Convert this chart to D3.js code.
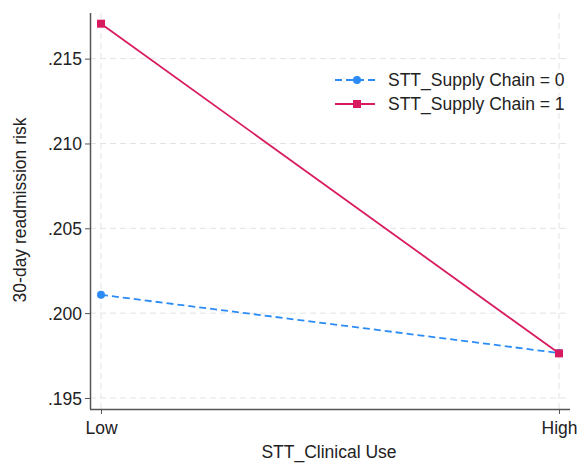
<!DOCTYPE html>
<html>
<head>
<meta charset="utf-8">
<script src="https://cdn.jsdelivr.net/npm/d3@7"></script>
<style>
  body { margin: 0; background: #fff; }
  text { font-family: "Liberation Sans", Arial, sans-serif; fill: #222; }
</style>
</head>
<body>
<div class="chart"></div>
<script>
const categories = ['Low', 'High']
const supplyChain0 = [0.20108, 0.19765]
const supplyChain1 = [0.21706, 0.19763]
const seriesNames = ['STT_Supply Chain = 0', 'STT_Supply Chain = 1']
const yTicks = [0.195, 0.200, 0.205, 0.210, 0.215]

const fullWidth = 577, fullHeight = 463
const margin = { top: 13, right: 7, bottom: 54, left: 90 }
const width = fullWidth - margin.left - margin.right
const height = fullHeight - margin.top - margin.bottom
const fontSize = '17.5px'

const svg = d3.select('.chart').append('svg')
    .attr('width', fullWidth)
    .attr('height', fullHeight)
const g = svg.append('g')
    .attr('transform', `translate(${margin.left}, ${margin.top})`)

const xScale = d3.scalePoint()
    .domain(categories)
    .range([11, 469])
const yScale = d3.scaleLinear()
    .domain([0.19435, 0.21769])
    .range([height, 0])

// grid
g.selectAll('.hgrid').data(yTicks).enter().append('line')
    .attr('x1', 0).attr('x2', width)
    .attr('y1', d => yScale(d)).attr('y2', d => yScale(d))
    .attr('stroke', '#e3e3e3').attr('stroke-dasharray', '6,4')
g.selectAll('.vgrid').data(categories).enter().append('line')
    .attr('x1', d => xScale(d)).attr('x2', d => xScale(d))
    .attr('y1', 0).attr('y2', height)
    .attr('stroke', '#e3e3e3').attr('stroke-dasharray', '6,4')

// axes
const yAxis = d3.axisLeft(yScale).tickValues(yTicks).tickSize(5).tickPadding(3)
    .tickFormat(d => d3.format('.3f')(d).replace(/^0/, ''))
const gY = g.append('g').call(yAxis)
const xAxis = d3.axisBottom(xScale).tickSize(5).tickPadding(8)
const gX = g.append('g').attr('transform', `translate(0, ${height})`).call(xAxis)
gX.select('.domain').attr('d', `M0,0.5H${width}`)
gY.select('.domain').attr('d', `M0.5,0V${height}`)
svg.selectAll('.domain').attr('stroke', '#555').attr('stroke-width', 1.5)
svg.selectAll('.tick line').attr('stroke', '#555')
svg.selectAll('.tick text').style('font-size', fontSize).style('fill', '#222')
    .style('font-family', '"Liberation Sans", Arial, sans-serif')
gY.selectAll('.tick text').attr('dy', '0.36em')

// axis titles
svg.append('text')
    .attr('x', 329).attr('y', 458)
    .attr('text-anchor', 'middle').style('font-size', fontSize)
    .text('STT_Clinical Use')
svg.append('text')
    .attr('transform', `translate(26, 210) rotate(-90)`)
    .attr('text-anchor', 'middle').style('font-size', fontSize)
    .text('30-day readmission risk')

// series
const series = [
    { name: seriesNames[0], values: supplyChain0, color: '#2b8cf7', dash: '7,4', marker: 'circle' },
    { name: seriesNames[1], values: supplyChain1, color: '#d81b60', dash: null, marker: 'square' }
]
const line = d3.line()
    .x((d, i) => xScale(categories[i]))
    .y(d => yScale(d))

function drawMarker(sel, type, color, x, y) {
    if (type === 'circle') {
        sel.append('circle').attr('cx', x).attr('cy', y).attr('r', 4).attr('fill', color)
    } else {
        sel.append('rect').attr('x', x - 4).attr('y', y - 4).attr('width', 8).attr('height', 8).attr('fill', color)
    }
}

series.forEach(s => {
    g.append('path')
        .datum(s.values)
        .attr('d', line)
        .attr('fill', 'none')
        .attr('stroke', s.color)
        .attr('stroke-width', 1.8)
        .attr('stroke-dasharray', s.dash)
    s.values.forEach((v, i) => drawMarker(g, s.marker, s.color, xScale(categories[i]), yScale(v)))
})

// legend
const legend = svg.append('g').attr('transform', 'translate(335, 80)')
series.forEach((s, i) => {
    const row = legend.append('g').attr('transform', `translate(0, ${i * 24})`)
    row.append('line')
        .attr('x1', 0).attr('x2', 40).attr('y1', 0).attr('y2', 0)
        .attr('stroke', s.color).attr('stroke-width', 1.8)
        .attr('stroke-dasharray', s.dash)
    drawMarker(row, s.marker, s.color, 22, 0)
    row.append('text')
        .attr('x', 53).attr('y', 6)
        .style('font-size', fontSize)
        .text(s.name)
})
</script>
</body>
</html>
